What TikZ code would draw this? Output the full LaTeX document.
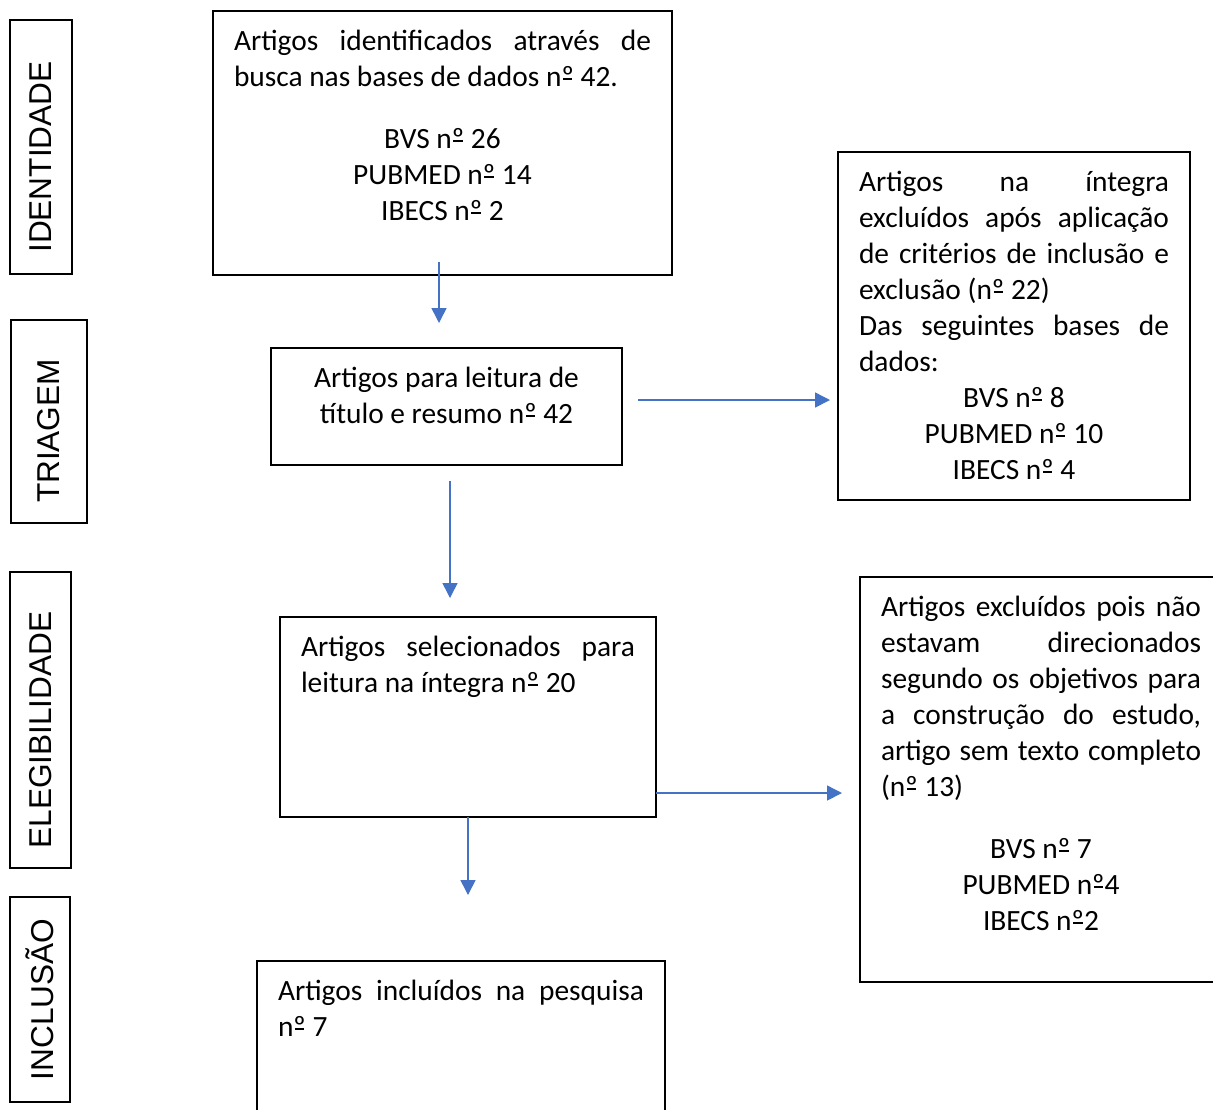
\documentclass[tikz,border=0pt]{standalone}
\usepackage{fontspec}
\setmainfont{Carlito}
\newfontfamily\phasefont{Liberation Sans}
\usepackage{xcolor}
\definecolor{flowblue}{HTML}{4472C4}
\usepackage{tikz}
\usetikzlibrary{
  arrows.meta,
  positioning,
  calc,
}
\hbadness=10000

% text block of a stage box: width, inner height, content (top aligned)
\newcommand{\boxpar}[3]{\parbox[c][#2][t]{#1}{\strut#3}}
% ordinal sign with the underline of the original font
\newcommand{\ordo}{\setbox0\hbox{º}%
  \rlap{\hbox to\wd0{\hss\rule[0.22em]{0.75\wd0}{0.05em}\hss}}\box0}

\begin{document}
\begin{tikzpicture}[
  x=0.5pt, y=-0.5pt,
  stagebox/.style={
    draw=black,
    line width=1pt,
    anchor=north west,
    inner xsep=10.5pt,
    inner ysep=7pt,
    outer sep=0pt,
    font=\fontsize{14.7}{18}\selectfont,
  },
  phase/.style={
    draw=black,
    line width=1pt,
    rotate=90,
    inner sep=0pt,
    outer sep=0pt,
    font=\phasefont\fontsize{15.8}{18}\selectfont,
  },
  phaseshift/.style={
    phase,
    execute at end node=\kern10pt,
  },
  arr/.style={
    -{Triangle[length=7.5pt, width=7.5pt]},
    line width=0.75pt,
    draw=flowblue,
  },
]

\useasboundingbox (0,0) rectangle (1213,1109);
\clip (0,0) rectangle (1213,1109);

% =============================================================================
% Phase labels (left column)
% =============================================================================
\node[phaseshift, minimum width=127pt, minimum height=31pt] (phase1) at (41,147) {IDENTIDADE};
\node[phaseshift, minimum width=101.5pt, minimum height=38pt] (phase2) at (49,421) {TRIAGEM};
\node[phaseshift, minimum width=148pt, minimum height=30.5pt] (phase3) at (40.5,720) {ELEGIBILIDADE};
\node[phase, minimum width=102.5pt, minimum height=30pt] (phase4) at (40,999.5) {INCLUSÃO};

% =============================================================================
% Main flow
% =============================================================================
\node[stagebox] (found) at (213,11) {\boxpar{208.5pt}{118pt}{%
  Artigos identificados através de\linebreak
  busca nas bases de dados n\ordo{} 42.\par\vspace{13pt}
  {\centering BVS n\ordo{} 26\\PUBMED n\ordo{} 14\\IBECS n\ordo{} 2\par}}};

\node[stagebox] (screen) at (271,348) {\boxpar{154.5pt}{44.5pt}{%
  \centering Artigos para leitura de\\título e resumo n\ordo{} 42}};

\node[stagebox] (fulltext) at (280,617) {\boxpar{167pt}{86pt}{%
  Artigos selecionados para\linebreak
  leitura na íntegra n\ordo{} 20}};

\node[stagebox] (included) at (257,961) {\boxpar{183pt}{86pt}{%
  Artigos incluídos na pesquisa\linebreak
  n\ordo{} 7}};

% =============================================================================
% Exclusions (right column)
% =============================================================================
\node[stagebox] (excl1) at (838,152) {\boxpar{155pt}{160pt}{%
  Artigos na íntegra\linebreak
  excluídos após aplicação\linebreak
  de critérios de inclusão e\linebreak
  exclusão (n\ordo{} 22)\par
  Das seguintes bases de\linebreak
  dados:\par
  {\centering BVS n\ordo{} 8\\PUBMED n\ordo{} 10\\IBECS n\ordo{} 4\par}}};

\node[stagebox] (excl2) at (860,577) {\boxpar{160pt}{188.5pt}{%
  Artigos excluídos pois não\linebreak
  estavam direcionados\linebreak
  segundo os objetivos para\linebreak
  a construção do estudo,\linebreak
  artigo sem texto completo\linebreak
  (n\ordo{} 13)\par\vspace{13pt}
  {\centering BVS n\ordo{} 7\\PUBMED n\ordo{}4\\IBECS n\ordo{}2\par}}};

% --- connectors ---
\draw[arr, shorten <=-6.5pt, shorten >=12.5pt]
  ([xshift=-1.75pt]found.south) -- ([xshift=-1.75pt]found.south |- screen.north);
\draw[arr, shorten <=8pt, shorten >=4pt]
  ([yshift=3.25pt]screen.east) -- ([yshift=3.25pt]screen.east -| excl1.west);
\draw[arr, shorten <=8pt, shorten >=9.5pt]
  ([xshift=1.75pt]screen.south) -- ([xshift=1.75pt]screen.south |- fulltext.north);
\draw[arr, shorten >=9pt]
  ([yshift=-38pt]fulltext.east) -- ([yshift=-38pt]fulltext.east -| excl2.west);
\draw[arr, shorten >=33pt]
  (fulltext.south) -- (fulltext.south |- included.north);

\end{tikzpicture}
\end{document}
